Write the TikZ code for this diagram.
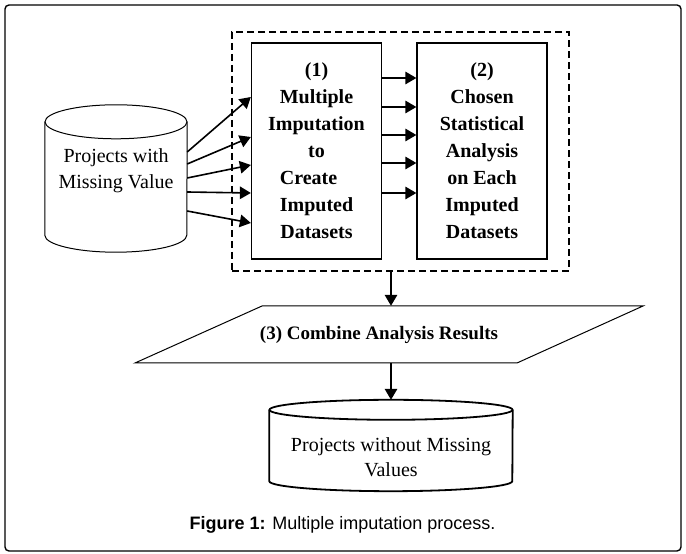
\documentclass[tikz,border=0pt]{standalone}
\usepackage{fontspec}
\setmainfont{Liberation Serif}
\newfontfamily\capfont{Liberation Sans}
\usetikzlibrary{arrows.meta}

\begin{document}
\begin{tikzpicture}[x=1pt,y=1pt]

\def \boxw {130}
\def \boxh {216}
\def \headlen {11pt}
\def \headwid {12.5pt}
\def \srcrx {71}
\def \srcry {17}
\def \dstrx {121.5}
\def \dstry {10}

\tikzset{
  arr/.style={->, >={Triangle[length=\headlen,width=\headwid]}, line width=1.6pt},
  stage/.style={draw, line width=1.3pt, minimum width=\boxw pt, minimum height=\boxh pt, align=center, font=\fontsize{20}{27}\selectfont\bfseries},
  cyltext/.style={align=center, font=\fontsize{20}{26}\selectfont}
}

\useasboundingbox (0,0) rectangle (686,554);
\draw[line width=1.4pt, rounded corners=4pt] (5,3) rectangle (681,549);

\node (grp) [draw, dash pattern=on 7pt off 4pt, line width=1.3pt, minimum width=337pt, minimum height=239pt] at (400.5,402.5) {};

\node (imp) [stage] at (316.5,403) {(1)\\Multiple\\Imputation\\to\\Create\hbox to 16pt{}\\Imputed\\Datasets};
\node (ana) [stage] at (482,403) {(2)\\Chosen\\Statistical\\Analysis\\on Each\\Imputed\\Datasets};

\foreach \dy in {73,44,16,-12,-42}
{
  \draw[arr] ([yshift=\dy pt]imp.east) -- ([yshift=\dy pt]ana.west);
}

\node (src) [inner sep=0pt, minimum width=2*\srcrx pt, minimum height=147pt,
  label={[cyltext, yshift=7.5pt]center:Projects with\\Missing Value}] at (116,375.5) {};
\draw[line width=1pt] ([yshift=-\srcry pt]src.north west) -- ([yshift=\srcry pt]src.south west)
  arc[start angle=180, end angle=360, x radius=\srcrx, y radius=\srcry] -- ([yshift=-\srcry pt]src.north east);
\draw[line width=1pt] ([yshift=-\srcry pt]src.north) ellipse [x radius=\srcrx, y radius=\srcry];

\foreach \a/\b in {26.5/54, 14.5/14, 0.5/-14, -13.5/-42, -32.5/-72}
{
  \draw[arr] ([yshift=\a pt]src.east) -- ([yshift=\b pt]imp.west);
}

\node (comb) [minimum width=381pt, minimum height=57pt, inner sep=0pt, font=\fontsize{19}{23}\selectfont\bfseries] at (391,219.5) {(3) Combine Analysis Results\hspace*{24pt}};
\draw[line width=1pt, shift={(comb.center)}] (-129,28.5) -- (252,28.5) -- (126,-28.5) -- (-256,-28.5) -- cycle;

\node (dst) [inner sep=0pt, minimum width=2*\dstrx pt, minimum height=91pt,
  label={[cyltext, yshift=-12pt, font=\fontsize{20}{25}\selectfont]center:Projects without Missing\\Values}] at (391,108.5) {};
\draw[line width=1.8pt] ([yshift=-\dstry pt]dst.north west) -- ([yshift=\dstry pt]dst.south west)
  arc[start angle=180, end angle=360, x radius=\dstrx, y radius=\dstry] -- ([yshift=-\dstry pt]dst.north east);
\draw[line width=1.8pt] ([yshift=-\dstry pt]dst.north) ellipse [x radius=\dstrx, y radius=\dstry];

\draw[arr] (grp.south -| comb.north) -- (comb.north);
\draw[arr] (comb.south) -- (dst.north);

\node (cap) [font=\capfont\fontsize{18}{22}\selectfont] at (342.5,29) {\textbf{Figure 1:} Multiple imputation process.};

\end{tikzpicture}
\end{document}
